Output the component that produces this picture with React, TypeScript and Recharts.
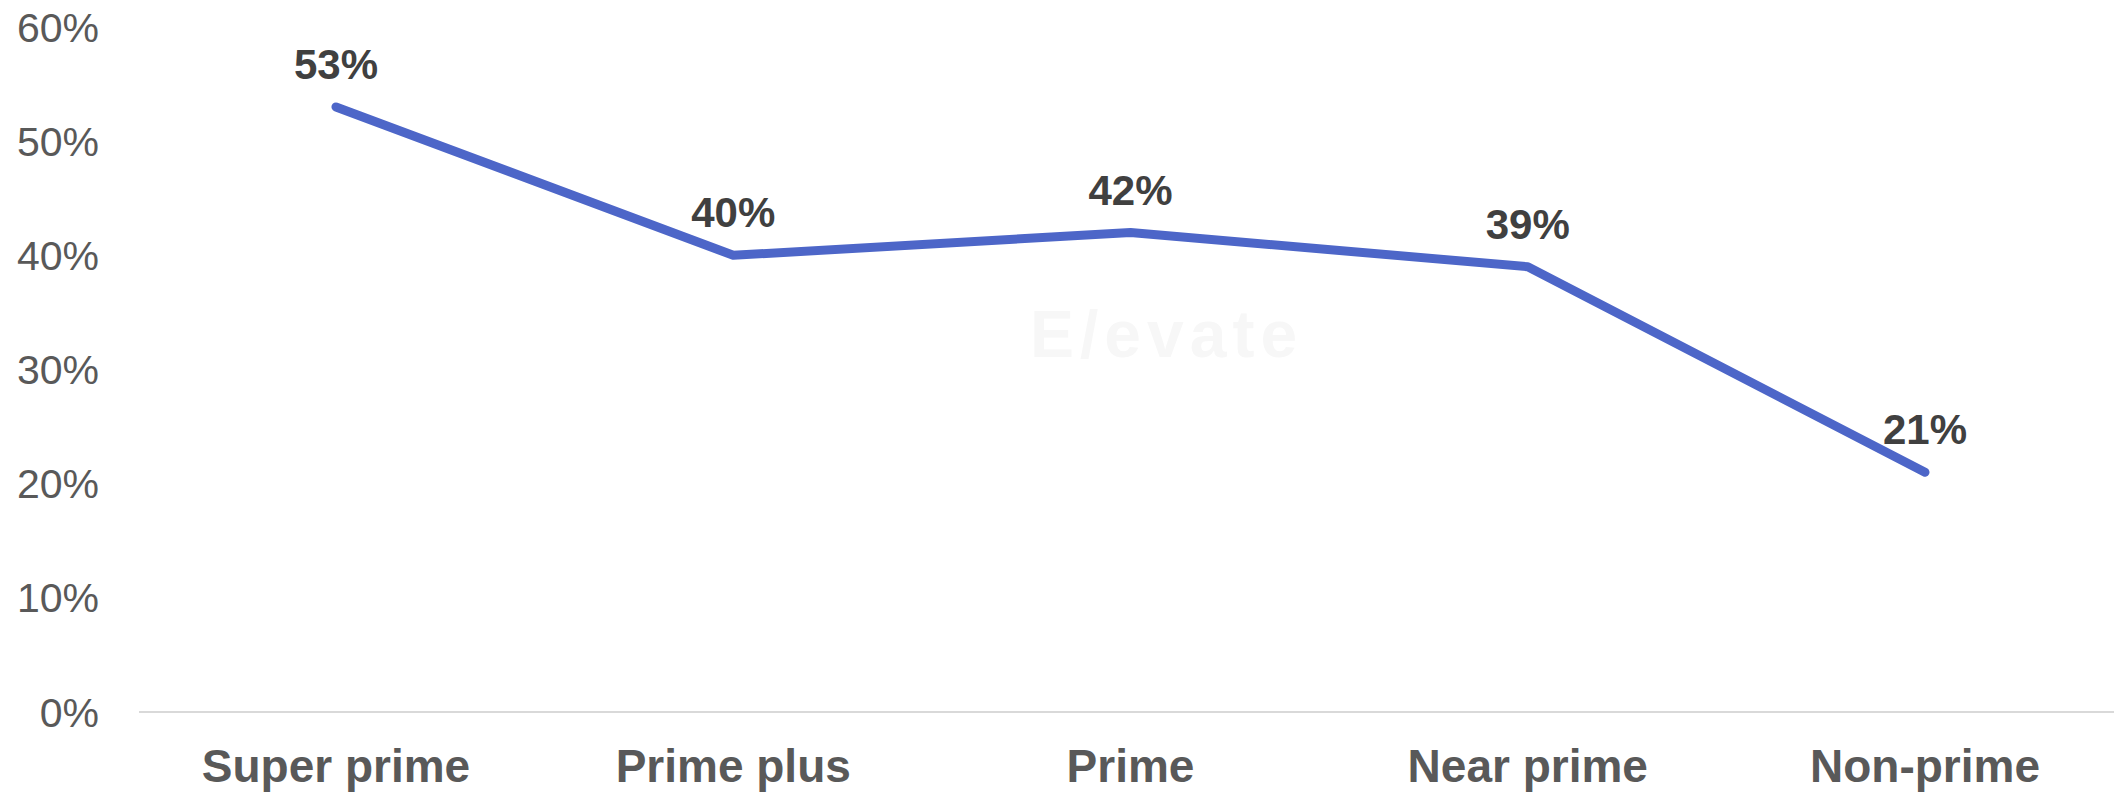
import { LineChart, Line, XAxis, YAxis, LabelList } from "recharts";

const categories = ["Super prime", "Prime plus", "Prime", "Near prime", "Non-prime"];
const shares = [53, 40, 42, 39, 21];
const yTicks = [0, 10, 20, 30, 40, 50, 60];

const data = categories.map((name, i) => ({ name, value: shares[i] }));

const font = "'Liberation Sans', Arial, sans-serif";

export default function App() {
  return (
    <div
      style={{
        position: "absolute",
        left: 0,
        top: 0,
        width: 2118,
        height: 792,
        background: "#fff",
        fontFamily: font,
      }}
    >
      {/* faint watermark */}
      <div
        style={{
          position: "absolute",
          left: 1030,
          top: 296,
          fontSize: 66,
          fontWeight: 700,
          letterSpacing: 6,
          color: "#f7f7f7",
          fontFamily: font,
        }}
      >
        E/evate
      </div>

      <LineChart
        width={2118}
        height={792}
        data={data}
        margin={{ top: 27, right: 4, left: 0, bottom: 0 }}
        style={{ position: "relative" }}
      >
        <XAxis
          dataKey="name"
          height={80}
          padding={{ left: 197, right: 189 }}
          axisLine={{ stroke: "#d9d9d9", strokeWidth: 2 }}
          tickLine={false}
          tickSize={0}
          tickMargin={37}
          interval={0}
          tick={{ fill: "#595959", fontSize: 46, fontWeight: 700, fontFamily: font }}
        />
        <YAxis
          width={139}
          domain={[0, 60]}
          ticks={yTicks}
          tickFormatter={(v) => `${v}%`}
          axisLine={false}
          tickLine={false}
          tickSize={0}
          tickMargin={40}
          tick={{ fill: "#595959", fontSize: 41, fontFamily: font }}
        />
        <Line
          type="linear"
          dataKey="value"
          stroke="#4d66c8"
          strokeWidth={9}
          strokeLinecap="round"
          strokeLinejoin="round"
          dot={false}
          activeDot={false}
          isAnimationActive={false}
        >
          <LabelList
            dataKey="value"
            position="top"
            offset={28}
            formatter={(v: number) => `${v}%`}
            style={{ fill: "#404040", fontSize: 42, fontWeight: 700, fontFamily: font }}
          />
        </Line>
      </LineChart>
    </div>
  );
}
